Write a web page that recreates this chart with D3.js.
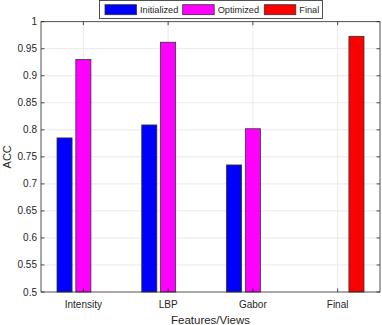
<!DOCTYPE html>
<html>
<head>
<meta charset="utf-8">
<script src="https://cdn.jsdelivr.net/npm/d3@7"></script>
<style>
  body { margin: 0; background: #fff; }
  svg { display: block; font-family: "Liberation Sans", Arial, sans-serif; }
</style>
</head>
<body>
<div id="vis"></div>
<script>
// ---- Data ----
const categories = ["Intensity", "LBP", "Gabor", "Final"];
const seriesNames = ["Initialized", "Optimized", "Final"];
const seriesColors = ["#0000ff", "#ff00ff", "#ff0000"];
const initialized = [0.785, 0.809, 0.735, 0];
const optimized = [0.930, 0.962, 0.802, 0];
const finalVals = [0, 0, 0, 0.973];
const yTicks = [0.5, 0.55, 0.6, 0.65, 0.7, 0.75, 0.8, 0.85, 0.9, 0.95, 1];

const series = [initialized, optimized, finalVals];

const W = 382, H = 325;
const plot = { left: 41, right: 380, top: 21.7, bottom: 292 };
const axisColor = "#262626";

const svg = d3.select("#vis").append("svg")
  .attr("width", W).attr("height", H);

// x: category index 1..4 in a 0.5..4.5 domain (MATLAB style)
const x = d3.scaleLinear().domain([0.5, 4.5]).range([plot.left, plot.right]);
const y = d3.scaleLinear().domain([0.5, 1]).range([plot.bottom, plot.top]);

const slot = 0.2222;       // group spacing per bar
const barW = slot * 0.8;   // bar width in units

// grid
const grid = svg.append("g");
grid.selectAll("line.gy").data(yTicks.slice(1, -1)).join("line")
  .attr("x1", plot.left).attr("x2", plot.right)
  .attr("y1", d => y(d)).attr("y2", d => y(d))
  .attr("stroke", "#e3e3e3").attr("stroke-width", 0.8);
grid.selectAll("line.gx").data(categories).join("line")
  .attr("x1", (d, i) => x(i + 1)).attr("x2", (d, i) => x(i + 1))
  .attr("y1", plot.top).attr("y2", plot.bottom)
  .attr("stroke", "#e3e3e3").attr("stroke-width", 0.8);

// bars
const bars = [];
series.forEach((vals, s) => {
  vals.forEach((v, i) => {
    bars.push({ s, i, v });
  });
});

svg.append("g").selectAll("rect").data(bars).join("rect")
  .attr("x", d => x(d.i + 1 + (d.s - 1) * slot - barW / 2))
  .attr("width", d => x(barW) - x(0))
  .attr("y", d => y(Math.max(d.v, 0.5)))
  .attr("height", d => y(0.5) - y(Math.max(d.v, 0.5)))
  .attr("fill", d => seriesColors[d.s])
  .attr("stroke", "#333")
  .attr("stroke-width", 0.8);

// axes box
const ax = svg.append("g").attr("fill", "none").attr("stroke", axisColor).attr("stroke-width", 0.8);
ax.append("rect")
  .attr("x", plot.left).attr("y", plot.top)
  .attr("width", plot.right - plot.left).attr("height", plot.bottom - plot.top);

// ticks (inside)
const tl = 3.5;
yTicks.forEach(t => {
  ax.append("line").attr("x1", plot.left).attr("x2", plot.left + tl).attr("y1", y(t)).attr("y2", y(t));
  ax.append("line").attr("x1", plot.right).attr("x2", plot.right - tl).attr("y1", y(t)).attr("y2", y(t));
});
categories.forEach((c, i) => {
  ax.append("line").attr("x1", x(i + 1)).attr("x2", x(i + 1)).attr("y1", plot.bottom).attr("y2", plot.bottom - tl);
  ax.append("line").attr("x1", x(i + 1)).attr("x2", x(i + 1)).attr("y1", plot.top).attr("y2", plot.top + tl);
});

// tick labels
svg.append("g").selectAll("text").data(yTicks).join("text")
  .attr("x", plot.left - 4).attr("y", d => y(d)).attr("dy", "0.35em")
  .attr("text-anchor", "end").attr("font-size", 10).attr("fill", axisColor)
  .text(d => d3.format("")(d));

svg.append("g").selectAll("text").data(categories).join("text")
  .attr("x", (d, i) => x(i + 1)).attr("y", 308)
  .attr("text-anchor", "middle").attr("font-size", 10).attr("fill", axisColor)
  .text(d => d);

// axis labels
svg.append("text")
  .attr("x", (plot.left + plot.right) / 2).attr("y", 324)
  .attr("text-anchor", "middle").attr("font-size", 11.5).attr("fill", axisColor)
  .text("Features/Views");

svg.append("text")
  .attr("transform", `translate(11,${(plot.top + plot.bottom) / 2}) rotate(-90)`)
  .attr("text-anchor", "middle").attr("font-size", 11).attr("fill", axisColor)
  .text("ACC");

// legend
const lg = svg.append("g");
lg.append("rect")
  .attr("x", 99.5).attr("y", 0.5).attr("width", 223).attr("height", 18)
  .attr("fill", "#fff").attr("stroke", axisColor).attr("stroke-width", 0.8);
const legendX = [105, 182.7, 264.3];
seriesNames.forEach((n, s) => {
  lg.append("rect")
    .attr("x", legendX[s]).attr("y", 4.7).attr("width", 31.5).attr("height", 10)
    .attr("fill", seriesColors[s]).attr("stroke", "#333").attr("stroke-width", 0.8);
  lg.append("text")
    .attr("x", legendX[s] + 35).attr("y", 9.7).attr("dy", "0.35em")
    .attr("font-size", 9.2).attr("fill", axisColor)
    .text(n);
});
</script>
</body>
</html>
